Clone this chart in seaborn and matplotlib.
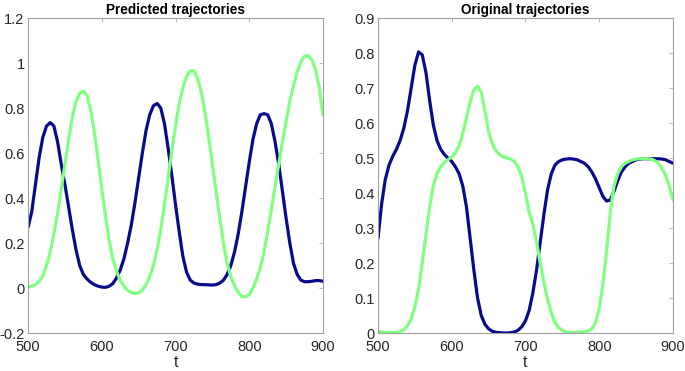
import numpy as np
import pandas as pd
import matplotlib
matplotlib.use("Agg")
import matplotlib.pyplot as plt
import seaborn as sns

# time grid (read every 5 units off the picture)
t = list(range(500, 905, 5))

pred_blue = [0.27, 0.34, 0.46, 0.58, 0.67, 0.72, 0.735, 0.72, 0.65, 0.55,
             0.46, 0.36, 0.26, 0.17, 0.10, 0.06, 0.04, 0.025, 0.015, 0.008,
             0.004, 0.003, 0.008, 0.02, 0.045, 0.08, 0.13, 0.20, 0.28, 0.38,
             0.49, 0.60, 0.70, 0.77, 0.81, 0.82, 0.80, 0.73, 0.62, 0.50,
             0.37, 0.25, 0.14, 0.07, 0.035, 0.022, 0.017, 0.015, 0.015, 0.014,
             0.013, 0.015, 0.022, 0.035, 0.06, 0.10, 0.16, 0.24, 0.34, 0.45,
             0.56, 0.66, 0.73, 0.77, 0.775, 0.77, 0.73, 0.65, 0.55, 0.43,
             0.31, 0.20, 0.11, 0.06, 0.035, 0.028, 0.028, 0.03, 0.033, 0.033,
             0.03]

pred_green = [0.005, 0.008, 0.015, 0.03, 0.055, 0.10, 0.16, 0.24, 0.33, 0.44,
              0.55, 0.66, 0.76, 0.83, 0.865, 0.875, 0.855, 0.79, 0.69, 0.57,
              0.44, 0.32, 0.21, 0.13, 0.075, 0.035, 0.008, -0.01, -0.02, -0.025,
              -0.022, -0.01, 0.015, 0.05, 0.10, 0.17, 0.26, 0.37, 0.49, 0.61,
              0.72, 0.82, 0.89, 0.94, 0.965, 0.965, 0.93, 0.87, 0.78, 0.67,
              0.55, 0.43, 0.31, 0.20, 0.11, 0.05, 0.01, -0.02, -0.037, -0.04,
              -0.03, 0.0, 0.04, 0.09, 0.16, 0.25, 0.35, 0.45, 0.55, 0.65,
              0.74, 0.83, 0.90, 0.96, 1.005, 1.03, 1.032, 1.015, 0.97, 0.89,
              0.77]

orig_blue = [0.27, 0.37, 0.44, 0.48, 0.505, 0.525, 0.55, 0.585, 0.635, 0.70,
             0.765, 0.803, 0.795, 0.745, 0.665, 0.595, 0.55, 0.525, 0.51, 0.50,
             0.49, 0.475, 0.455, 0.42, 0.36, 0.27, 0.18, 0.10, 0.05, 0.025,
             0.012, 0.005, 0.002, 0.001, 0.0, 0.0, 0.001, 0.003, 0.008, 0.018,
             0.035, 0.065, 0.115, 0.18, 0.26, 0.34, 0.41, 0.455, 0.48, 0.49,
             0.495, 0.497, 0.498, 0.497, 0.495, 0.49, 0.485, 0.475, 0.46, 0.44,
             0.415, 0.39, 0.377, 0.38, 0.405, 0.435, 0.46, 0.475, 0.485, 0.49,
             0.495, 0.497, 0.498, 0.498, 0.498, 0.498, 0.498, 0.497, 0.495, 0.49,
             0.485]

orig_green = [0.005, 0.003, 0.002, 0.001, 0.001, 0.002, 0.004, 0.009, 0.02, 0.04,
              0.075, 0.125, 0.20, 0.28, 0.36, 0.42, 0.455, 0.475, 0.487, 0.495,
              0.503, 0.515, 0.535, 0.57, 0.615, 0.66, 0.695, 0.705, 0.688, 0.635,
              0.575, 0.54, 0.52, 0.51, 0.503, 0.50, 0.497, 0.49, 0.475, 0.445,
              0.40, 0.345, 0.31, 0.26, 0.20, 0.145, 0.095, 0.058, 0.03, 0.015,
              0.007, 0.003, 0.001, 0.001, 0.002, 0.003, 0.003, 0.006, 0.012, 0.03,
              0.07, 0.14, 0.235, 0.345, 0.42, 0.455, 0.475, 0.485, 0.49, 0.495,
              0.497, 0.498, 0.498, 0.498, 0.497, 0.493, 0.485, 0.47, 0.45, 0.42,
              0.38]

panels = [
    ("Predicted trajectories", pred_blue, pred_green, (-0.2, 1.2), np.arange(-0.2, 1.21, 0.2)),
    ("Original trajectories", orig_blue, orig_green, (0, 0.9), np.arange(0, 0.91, 0.1)),
]

blue = "#0a0a8c"
green = "#80ff80"
axis_grey = "#262626"

sns.set_theme(style="white")
plt.rcParams["font.family"] = ["Liberation Sans", "DejaVu Sans"]

fig = plt.figure(figsize=(6.85, 3.71), dpi=100)
boxes = [[0.041, 0.1024, 0.4305, 0.849], [0.5518, 0.1024, 0.4307, 0.849]]

for box, (title, yb, yg, ylim, yticks) in zip(boxes, panels):
    ax = fig.add_axes(box)
    df = pd.DataFrame({"t": t, "blue": yb, "green": yg})
    sns.lineplot(data=df, x="t", y="blue", color=blue, lw=2.3, ax=ax,
                 solid_joinstyle="round")
    sns.lineplot(data=df, x="t", y="green", color=green, lw=2.3, ax=ax,
                 solid_joinstyle="round")
    ax.set_xlim(500, 900)
    ax.set_ylim(*ylim)
    ax.set_xticks([500, 600, 700, 800, 900])
    ax.set_yticks(yticks)
    ax.set_yticklabels([("%g" % round(v, 1)) for v in yticks])
    ax.set_title(title, fontsize=9.8, fontweight="bold", color="black", pad=3)
    ax.set_xlabel("t", fontsize=11.5, color=axis_grey, labelpad=1)
    ax.set_ylabel("")
    ax.tick_params(direction="in", length=3, width=0.6, colors="#b0b0b0",
                   labelcolor=axis_grey, labelsize=10.5, top=True, right=True)
    ax.tick_params(axis="x", pad=5)
    ax.tick_params(axis="y", pad=2.5)
    for s in ax.spines.values():
        s.set_color("#a0a0a0")
        s.set_linewidth(0.8)

fig.savefig("out.png", dpi=100)
